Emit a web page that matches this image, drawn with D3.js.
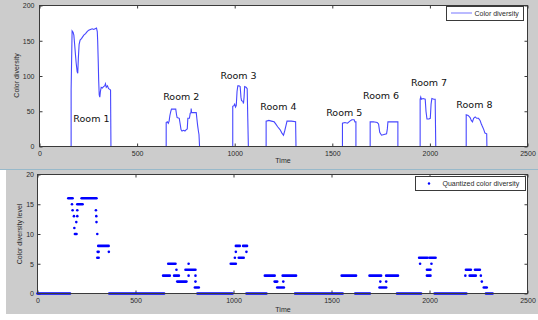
<!DOCTYPE html>
<html>
<head>
<meta charset="utf-8">
<script src="https://cdn.jsdelivr.net/npm/d3@7"></script>
<style>
  html, body { margin: 0; padding: 0; background: #ffffff; }
  svg { display: block; }
</style>
</head>
<body>
<svg id="chart" width="538" height="320"></svg>
<script>
// tick labels
const timeTicks = [0, 500, 1000, 1500, 2000, 2500];
const diversityTicks = [0, 50, 100, 150, 200];
const levelTicks = [0, 5, 10, 15, 20];

// color diversity (top)
const diversityTime = [
  0, 162, 162, 167, 172, 176, 180, 184, 188, 193, 196, 199, 203, 208, 215, 227, 236, 244, 252, 261,
  270, 278, 285, 292, 296, 298, 301, 303, 306, 309, 312, 316, 322, 328, 334, 338, 342, 348, 354, 360,
  364, 366,
  649, 649, 655, 660, 664, 668, 672, 676, 686, 698, 702, 705, 716, 720, 725, 730, 738, 745, 752, 757,
  760, 768, 772, 776, 777, 779, 790, 803, 806, 810, 814, 817, 820,
  990, 990, 996, 1000, 1004, 1008, 1012, 1016, 1022, 1028, 1032, 1035, 1042, 1045, 1048, 1051, 1058,
  1064, 1067, 1070,
  1161, 1161, 1175, 1188, 1202, 1210, 1220, 1232, 1242, 1250, 1256, 1262, 1268, 1290, 1312, 1314,
  1552, 1552, 1565, 1578, 1590, 1600, 1612, 1616, 1621, 1621,
  1694, 1694, 1710, 1730, 1737, 1743, 1752, 1765, 1778, 1782, 1785, 1810, 1836, 1836,
  1950, 1950, 1953, 1956, 1965, 1976, 1980, 1985, 1995, 2002, 2006, 2010, 2020, 2027, 2030,
  2186, 2186, 2196, 2206, 2212, 2218, 2224, 2232, 2240, 2249, 2257, 2262, 2268, 2276, 2282, 2291,
  2292, 2321
];
const diversityValue = [
  0, 0, 80, 164, 162, 158, 145, 131, 118, 106, 104, 125, 145, 151, 153, 158, 160, 163, 165, 166,
  167, 166, 167, 168, 163, 150, 120, 95, 73, 70, 78, 84, 83, 85, 86, 89, 84, 86, 82, 81,
  80, 0,
  0, 34, 35, 33, 36, 44, 49, 53, 53, 53, 45, 41, 40, 33, 24, 22, 23, 22, 24, 25,
  40, 40, 47, 48, 54, 48, 48, 48, 40, 30, 22, 17, 0,
  0, 57, 58, 60, 56, 58, 78, 86, 86, 85, 70, 65, 64, 61, 70, 85, 84,
  82, 40, 0,
  0, 36, 37, 36, 35, 32, 28, 24, 19, 16, 22, 29, 36, 36, 35, 0,
  0, 33, 34, 33, 36, 38, 38, 35, 35, 0,
  0, 35, 35, 34, 32, 20, 16, 17, 18, 25, 35, 35, 35, 0,
  0, 67, 70, 67, 68, 67, 50, 39, 39, 40, 60, 68, 67, 67, 0,
  0, 45, 44, 41, 37, 35, 40, 42, 40, 40, 37, 33, 29, 24, 19, 18,
  0, 0
];

// quantized color diversity (bottom): runs of equal level
const runStart = [
  0, 157, 176, 179, 186, 188, 191, 198, 203, 203, 203, 225, 298, 300, 301, 305, 307, 305, 310, 364,
  366, 641, 667, 697, 709, 713, 755, 771, 771, 806, 806, 803, 816,
  986, 1007, 1012, 1012, 1027, 1049, 1066, 1066,
  1160, 1210, 1223, 1254, 1251, 1314, 1552, 1621, 1694, 1749, 1745, 1779, 1779, 1834,
  1947, 1952, 1987, 1987, 2000, 2010, 2026,
  2183, 2186, 2205, 2232, 2262, 2267, 2277, 2288
];
const runEnd = [
  166, 179, 176, 179, 186, 188, 199, 198, 203, 203, 230, 301, 298, 300, 301, 305, 312, 312, 363, 364,
  646, 675, 704, 721, 709, 760, 806, 771, 771, 806, 806, 823, 995,
  1012, 1007, 1012, 1032, 1052, 1069, 1066, 1168,
  1210, 1223, 1257, 1254, 1319, 1557, 1625, 1696, 1753, 1749, 1779, 1779, 1839, 1957,
  1990, 1952, 2005, 2005, 2031, 2010, 2188,
  2183, 2211, 2236, 2257, 2262, 2267, 2292, 2322
];
const runLevel = [
  0, 16, 15, 14, 13, 11, 10, 12, 14, 13, 15, 16, 14, 13, 12, 10, 7, 6, 8, 7,
  0, 3, 5, 3, 4, 2, 4, 5, 3, 3, 2, 1, 0,
  5, 6, 7, 8, 6, 8, 7, 0,
  3, 2, 1, 2, 3, 0, 3, 0, 3, 2, 1, 2, 3, 0,
  6, 5, 4, 3, 6, 5, 0,
  3, 4, 3, 4, 3, 2, 1, 0
];

// room annotations (data coordinates of the top axes)
const roomNames = ["Room 1", "Room 2", "Room 3", "Room 4", "Room 5", "Room 6", "Room 7", "Room 8"];
const roomTime = [266, 726, 1020, 1224, 1561, 1750, 1996, 2228];
const roomValue = [40, 71, 100, 57, 48, 72, 91, 59];

const svg = d3.select("#chart");
const W = 538, H = 320;
const tickFont = "Liberation Sans, Arial, sans-serif";
const blue = "#4747ff";

// figure backgrounds
svg.append("rect").attr("x", 0).attr("y", 0).attr("width", W).attr("height", 169).attr("fill", "#cccccc");
svg.append("rect").attr("x", 6).attr("y", 170).attr("width", W - 6).attr("height", 144).attr("fill", "#cccccc");
svg.append("line").attr("x1", 0).attr("x2", W).attr("y1", 169.5).attr("y2", 169.5)
  .attr("stroke", "#98b9ca").attr("stroke-width", 1);

// MATLAB 風の軸を作る
function makeAxes(box, yDomain, yTicks, yPad) {
  const x = d3.scaleLinear().domain([0, 2500]).range([box.left, box.right]);
  const y = d3.scaleLinear().domain(yDomain).range([box.bottom, box.top]);
  const g = svg.append("g");

  g.append("rect")
    .attr("x", box.left).attr("y", box.top)
    .attr("width", box.right - box.left).attr("height", box.bottom - box.top)
    .attr("fill", "#ffffff");

  const styleAxis = sel => {
    sel.select(".domain").remove();
    sel.selectAll("line").attr("stroke", "#3a3a3a");
    sel.selectAll("text").attr("fill", "#2a2a2a")
      .style("font-family", tickFont).style("font-size", "7px");
  };

  g.append("g").attr("transform", `translate(0,${box.bottom})`)
    .call(d3.axisBottom(x).tickValues(timeTicks).tickSize(-3).tickPadding(4.5).tickFormat(d3.format("d")))
    .call(styleAxis);
  g.append("g").attr("transform", `translate(0,${box.top})`)
    .call(d3.axisTop(x).tickValues(timeTicks).tickSize(-3).tickFormat(""))
    .call(styleAxis);
  g.append("g").attr("transform", `translate(${box.left},0)`)
    .call(d3.axisLeft(y).tickValues(yTicks).tickSize(-3).tickPadding(yPad).tickFormat(d3.format("d")))
    .call(styleAxis);
  g.append("g").attr("transform", `translate(${box.right},0)`)
    .call(d3.axisRight(y).tickValues(yTicks).tickSize(-3).tickFormat(""))
    .call(styleAxis);

  return { x, y, g };
}

function drawFrame(box) {
  svg.append("rect")
    .attr("x", box.left).attr("y", box.top)
    .attr("width", box.right - box.left).attr("height", box.bottom - box.top)
    .attr("fill", "none").attr("stroke", "#3a3a3a").attr("stroke-width", 1);
}

function label(text, x, y, rotate) {
  const t = svg.append("text")
    .attr("text-anchor", "middle")
    .attr("fill", "#2a2a2a")
    .style("font-family", tickFont).style("font-size", "7px")
    .text(text);
  if (rotate) t.attr("transform", `translate(${x},${y}) rotate(-90)`);
  else t.attr("x", x).attr("y", y);
}

// ---- 上段: color diversity ----
const topBox = { left: 39.5, right: 527.5, top: 5.5, bottom: 146.5 };
const topAx = makeAxes(topBox, [0, 200], diversityTicks, 5);

const lineGen = d3.line()
  .x((d, i) => topAx.x(diversityTime[i]))
  .y(d => topAx.y(d));
topAx.g.append("path")
  .datum(diversityValue)
  .attr("d", lineGen)
  .attr("fill", "none")
  .attr("stroke", blue)
  .attr("stroke-width", 1.1);

topAx.g.selectAll("text.room")
  .data(roomNames)
  .join("text")
  .attr("class", "room")
  .attr("x", (d, i) => topAx.x(roomTime[i]))
  .attr("y", (d, i) => topAx.y(roomValue[i]))
  .attr("dy", "0.35em")
  .attr("text-anchor", "middle")
  .attr("fill", "#111111")
  .style("font-family", "DejaVu Sans, sans-serif")
  .style("font-size", "9.5px")
  .text(d => d);

drawFrame(topBox);

// 凡例 (上)
svg.append("rect").attr("x", 446.5).attr("y", 6.5).attr("width", 77).attr("height", 14)
  .attr("fill", "#ffffff").attr("stroke", "#3a3a3a");
svg.append("line").attr("x1", 451).attr("x2", 472).attr("y1", 13).attr("y2", 13)
  .attr("stroke", "#8c8cff").attr("stroke-width", 1.2);
svg.append("text").attr("x", 474.5).attr("y", 15.5).attr("fill", "#2a2a2a")
  .style("font-family", tickFont).style("font-size", "7px").text("Color diversity");

label("Time", 283, 162.5, false);
label("Color diversity", 19, 75.5, true);

// ---- 下段: quantized level ----
const botBox = { left: 37.5, right: 527.5, top: 174.5, bottom: 293.5 };
const botAx = makeAxes(botBox, [0, 20], levelTicks, 3.5);

botAx.g.selectAll("line.run")
  .data(runLevel)
  .join("line")
  .attr("class", "run")
  .attr("x1", (d, i) => botAx.x(runStart[i]))
  .attr("x2", (d, i) => botAx.x(runEnd[i]))
  .attr("y1", d => botAx.y(d))
  .attr("y2", d => botAx.y(d))
  .attr("stroke", "#0000ff")
  .attr("stroke-width", 2.6)
  .attr("stroke-linecap", "round");

drawFrame(botBox);

// 凡例 (下)
svg.append("rect").attr("x", 415.5).attr("y", 176.5).attr("width", 110).attr("height", 14)
  .attr("fill", "#ffffff").attr("stroke", "#3a3a3a");
svg.append("circle").attr("cx", 429).attr("cy", 183.5).attr("r", 1.2).attr("fill", "#0000ff");
svg.append("text").attr("x", 442.5).attr("y", 186).attr("fill", "#2a2a2a")
  .style("font-family", tickFont).style("font-size", "7px").text("Quantized color diversity");

label("Time", 283, 311.5, false);
label("Color diversity level", 21.5, 234, true);
</script>
</body>
</html>
